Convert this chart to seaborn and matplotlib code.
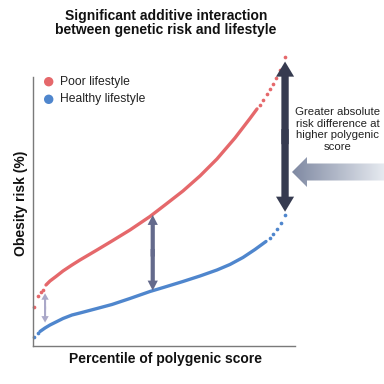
import numpy as np
import pandas as pd
import matplotlib
matplotlib.use("Agg")
import matplotlib.pyplot as plt
import seaborn as sns
from matplotlib.patches import Polygon
from matplotlib.colors import LinearSegmentedColormap

# ---- data (percentile-ordered points) ----
poor_line_x = [4.96, 6.49, 8.78, 11.45, 14.89, 17.94, 24.43, 30.15, 37.02, 44.66,
               50.38, 57.25, 63.74, 70.23, 77.10, 82.82, 85.50]
poor_line_y = [22.68, 24.16, 25.84, 27.88, 30.11, 31.97, 35.69, 39.03, 43.12, 48.14,
               52.42, 57.62, 63.20, 69.52, 77.32, 84.57, 88.10]
poor_dot_x = [0.38, 1.79, 2.94, 3.63, 86.64, 87.79, 89.20, 90.46, 91.49, 92.75, 94.27, 96.18]
poor_dot_y = [14.50, 18.40, 19.89, 20.82, 89.70, 91.38, 93.49, 95.54, 97.32, 99.63, 102.68, 107.25]

healthy_line_x = [2.67, 4.58, 6.49, 8.78, 11.45, 14.89, 17.94, 24.43, 30.15, 37.02,
                  44.66, 50.38, 57.25, 63.74, 70.23, 75.19, 80.15, 84.73, 88.93]
healthy_line_y = [5.39, 6.69, 7.81, 8.92, 10.22, 11.52, 12.27, 13.94, 15.43, 17.66,
                  20.26, 21.93, 23.98, 26.02, 28.25, 30.30, 32.90, 35.87, 38.85]
healthy_dot_x = [0.38, 1.72, 90.46, 91.76, 93.21, 94.66, 96.18]
healthy_dot_y = [3.53, 4.65, 39.96, 41.56, 43.49, 45.80, 48.70]

series = ["Poor lifestyle", "Healthy lifestyle"]
title = "Significant additive interaction\nbetween genetic risk and lifestyle"
xlabel = "Percentile of polygenic score"
ylabel = "Obesity risk (%)"
note = "Greater absolute\nrisk difference at\nhigher polygenic\nscore"

RED = "#e5686b"
BLUE = "#4f86cd"

sns.set_style("white")
plt.rcParams['font.family'] = ['Liberation Sans', 'DejaVu Sans']

W = H = 384
fig = plt.figure(figsize=(3.84, 3.84), dpi=100)
ax = fig.add_axes([33 / W, (H - 346) / H, (295 - 33) / W, (346 - 50) / H])
ax.set_xlim(0, 100)
ax.set_ylim(0, 110)

sns.lineplot(x=poor_line_x, y=poor_line_y, color=RED, linewidth=2.4, ax=ax,
             solid_capstyle='round')
sns.lineplot(x=healthy_line_x, y=healthy_line_y, color=BLUE, linewidth=2.4, ax=ax,
             solid_capstyle='round')
sns.scatterplot(x=poor_dot_x, y=poor_dot_y, color=RED, s=7, linewidth=0, ax=ax,
                clip_on=False)
sns.scatterplot(x=healthy_dot_x, y=healthy_dot_y, color=BLUE, s=7, linewidth=0, ax=ax,
                clip_on=False)

# double-headed arrows (two overlapping halves)
def dbl_arrow(x, y0, y1, w, hw, hl, color):
    mid = (y0 + y1) / 2
    ov_ = (y1 - y0) * 0.05
    for a, b in ((mid - ov_, y1), (mid + ov_, y0)):
        ax.arrow(x, a, 0, b - a, width=w, head_width=hw, head_length=hl,
                 length_includes_head=True, color=color, lw=0, clip_on=False,
                 zorder=5)

dbl_arrow(4.6, 8.7, 19.6, 0.8, 2.8, 2.4, "#aaa8c8")
dbl_arrow(45.7, 20.6, 48.7, 1.6, 3.9, 3.7, "#646a8c")
dbl_arrow(96.2, 49.9, 105.7, 2.8, 6.9, 5.6, "#363b50")

ax.set_xticks([])
ax.set_yticks([])
ax.set_xlabel("")
ax.set_ylabel("")
for s in ("top", "right"):
    ax.spines[s].set_visible(False)
for s in ("left", "bottom"):
    ax.spines[s].set_color("#7a7a7a")
    ax.spines[s].set_linewidth(1.0)
ax.spines["left"].set_bounds(0, 100)

# overlay in pixel coords
ov = fig.add_axes([0, 0, 1, 1])
ov.patch.set_alpha(0)
grad = np.linspace(0, 1, 256).reshape(1, -1)
cmap = LinearSegmentedColormap.from_list("g", ["#7f89a2", "#e6eaf0"])
poly = Polygon([(292, 172), (307, 157), (307, 163.5), (384, 163.5), (384, 180.5),
                (307, 180.5), (307, 187)], closed=True, facecolor="none",
               edgecolor="none")
ov.add_patch(poly)
im = ov.imshow(grad, extent=(292, 384, 187, 157), cmap=cmap, aspect="auto")
im.set_clip_path(poly)

# legend
ov.scatter([48.7, 48.7], [81.7, 99.3], s=46, color=[RED, BLUE], linewidth=0)
ov.text(59.5, 81.7, series[0], fontsize=8.7, va="center", ha="left", color="#222222")
ov.text(59.5, 99.3, series[1], fontsize=8.7, va="center", ha="left", color="#222222")

ov.text(166, 23, title, fontsize=10, fontweight="bold", ha="center", va="center",
        linespacing=1.0, color="#111111")
ov.text(165.5, 358.5, xlabel, fontsize=10, fontweight="bold", ha="center",
        va="center", color="#111111")
ov.text(21, 203, ylabel, fontsize=10, fontweight="bold", ha="center",
        va="center", rotation=90, color="#111111")
ov.text(337.5, 129.5, note, fontsize=8.2, ha="center", va="center",
        linespacing=1.2, color="#222222")

ov.set_xlim(0, W)
ov.set_ylim(H, 0)
ov.axis("off")

fig.savefig("out.png", dpi=100)
